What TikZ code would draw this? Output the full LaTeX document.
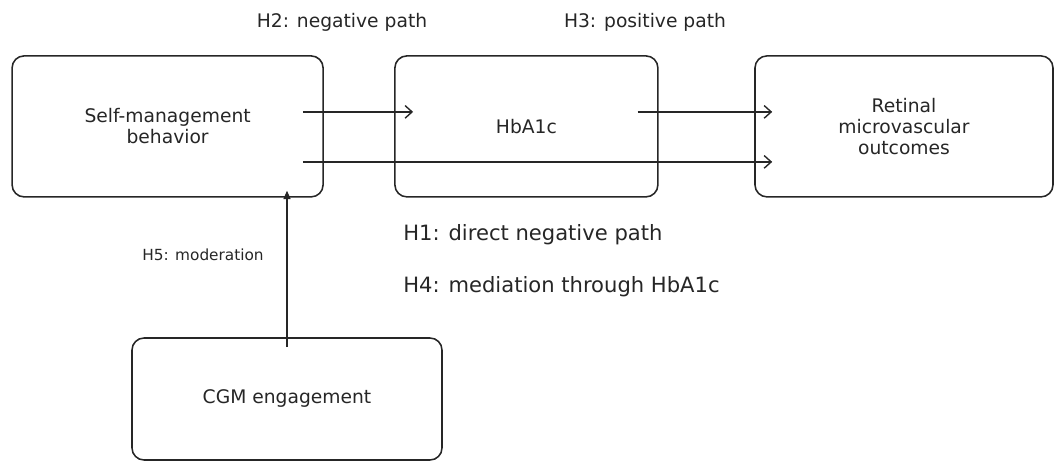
\documentclass[tikz,border=0pt]{standalone}
\usepackage{fontspec}
\setmainfont{DejaVu Sans}
\usetikzlibrary{arrows.meta,positioning}

\tikzset{
  varbox/.style={draw=black!85, rounded corners=0.3cm, line width=1.1pt, align=center,
    inner sep=0pt, font=\fontsize{13.3}{15}\selectfont, text=black!85},
  patharrow/.style={-{Straight Barb[length=5pt,width=9pt]}, line width=1pt, draw=black!85},
  modarrow/.style={-{Triangle[length=6pt,width=5pt]}, line width=1pt, draw=black!85},
  hyplabel/.style={font=\fontsize{13.3}{16}\selectfont, text=black!85, inner sep=0pt},
  hypnote/.style={font=\fontsize{15}{18}\selectfont, text=black!85, inner sep=0pt, anchor=west},
}

\begin{document}
\begin{tikzpicture}
\useasboundingbox (0,0) rectangle (26.4,11.55);

% the four variables
\node[varbox, minimum width=7.775cm, minimum height=3.525cm] (self) at (4.19,8.39) {Self-management\\behavior};
\node[varbox, minimum width=6.575cm, minimum height=3.525cm] (hba) at (13.16,8.39) {HbA1c};
\node[varbox, minimum width=7.45cm, minimum height=3.525cm] (ret) at (22.6,8.39) {Retinal\\microvascular\\outcomes};
\node[varbox, minimum width=7.75cm, minimum height=3.05cm] (cgm) at (7.175,1.575) {CGM engagement};

% paths
\draw[patharrow] ([xshift=-0.525cm, yshift=0.3625cm]self.east) -- ([xshift=0.475cm, yshift=0.3625cm]hba.west);
\draw[patharrow] ([xshift=-0.525cm, yshift=0.3625cm]hba.east) -- ([xshift=0.45cm, yshift=0.3625cm]ret.west);
\draw[patharrow] ([xshift=-0.525cm, yshift=-0.8875cm]self.east) -- ([xshift=0.45cm, yshift=-0.8875cm]ret.west);
\draw[modarrow] ([yshift=-0.25cm]cgm.north) -- ([yshift=0.175cm]self.south -| cgm.north);

% hypotheses
\node[hyplabel] (h2) at (8.55,11.0) {H2: negative path};
\node[hyplabel] (h3) at (16.125,11.0) {H3: positive path};
\node[hypnote] (h1) at (10.075,5.675) {H1: direct negative path};
\node[hypnote] (h4) at (10.075,4.375) {H4: mediation through HbA1c};
\node[hyplabel, font=\fontsize{10.9}{13}\selectfont] (h5) at (5.075,5.175) {H5: moderation};
\end{tikzpicture}
\end{document}
